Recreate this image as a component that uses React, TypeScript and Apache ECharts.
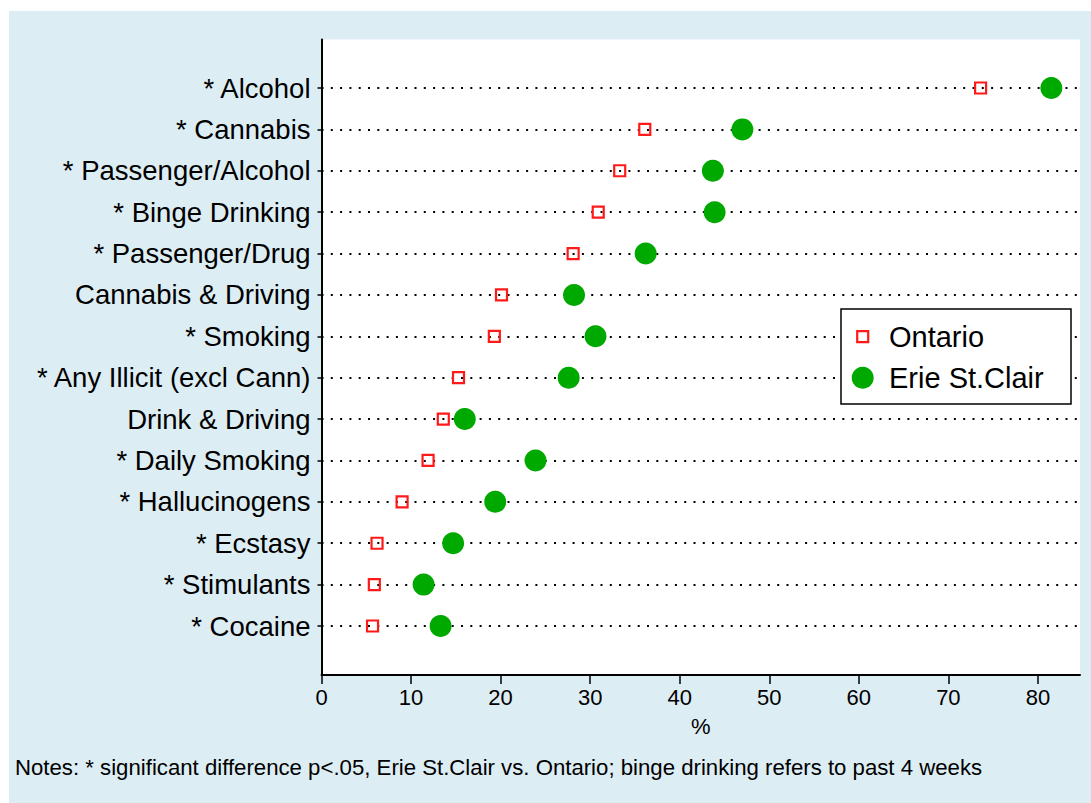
import React, { useEffect, useRef } from "react";
import * as echarts from "echarts";

const categories = [
  "* Alcohol",
  "* Cannabis",
  "* Passenger/Alcohol",
  "* Binge Drinking",
  "* Passenger/Drug",
  "Cannabis & Driving",
  "* Smoking",
  "* Any Illicit (excl Cann)",
  "Drink & Driving",
  "* Daily Smoking",
  "* Hallucinogens",
  "* Ecstasy",
  "* Stimulants",
  "* Cocaine",
];
const ontario = [73.6, 36.1, 33.3, 30.9, 28.1, 20.1, 19.3, 15.3, 13.6, 11.9, 9.0, 6.2, 5.9, 5.7];
const erieStClair = [81.5, 47.0, 43.7, 43.9, 36.2, 28.2, 30.6, 27.6, 16.0, 23.9, 19.4, 14.7, 11.4, 13.3];
const xTicks = [0, 10, 20, 30, 40, 50, 60, 70, 80];
const xMin = 0;
const xMax = 84.7;
const notes =
  "Notes: * significant difference p<.05, Erie St.Clair vs. Ontario; binge drinking refers to past 4 weeks";

const FONT = "'Liberation Sans', Arial, Helvetica, sans-serif";
const BG = "#ddedf4";
const RED = "#ff1a1a";
const GREEN = "#00a900";

export default function App() {
  const ref = useRef<HTMLDivElement>(null);
  useEffect(() => {
    if (!ref.current) return;
    const chart = echarts.init(ref.current, undefined, { renderer: "svg" });
    const plotLeft = 321.5;
    const plotRight = 11;
    chart.setOption({
      animation: false,
      textStyle: { fontFamily: FONT },
      grid: [
        {
          left: plotLeft,
          right: plotRight,
          top: 39.5,
          bottom: 128,
          show: true,
          backgroundColor: "#ffffff",
          borderWidth: 0,
          containLabel: false,
        },
        {
          left: plotLeft,
          right: plotRight,
          top: 88,
          bottom: 177,
          containLabel: false,
        },
      ],
      xAxis: [
        {
          type: "value",
          gridIndex: 0,
          min: xMin,
          max: xMax,
          interval: 10,
          name: "%",
          nameLocation: "middle",
          nameGap: 40,
          nameTextStyle: { color: "#000", fontSize: 22, fontFamily: FONT },
          axisLine: { show: true, onZero: false, lineStyle: { color: "#000", width: 2 } },
          axisTick: {
            show: true,
            length: 9,
            lineStyle: { color: "#000", width: 1.5 },
            customValues: xTicks,
          },
          axisLabel: {
            color: "#000",
            fontSize: 22,
            fontFamily: FONT,
            margin: 11,
            customValues: xTicks,
          },
          splitLine: { show: false },
        },
        {
          type: "value",
          gridIndex: 1,
          min: xMin,
          max: xMax,
          show: false,
        },
      ],
      yAxis: [
        {
          type: "value",
          gridIndex: 0,
          min: 0,
          max: 1,
          axisLine: { show: true, onZero: false, lineStyle: { color: "#000", width: 2 } },
          axisTick: { show: false },
          axisLabel: { show: false },
          splitLine: { show: false },
        },
        {
          type: "category",
          gridIndex: 1,
          data: categories,
          inverse: true,
          boundaryGap: false,
          axisLine: { show: false },
          axisTick: {
            show: true,
            length: 4,
            alignWithLabel: true,
            lineStyle: { color: "#000", width: 1.5 },
          },
          axisLabel: {
            color: "#000",
            fontSize: 27.5,
            fontFamily: FONT,
            margin: 11,
            interval: 0,
          },
          splitLine: {
            show: true,
            interval: 0,
            lineStyle: { color: "#000", width: 2, type: [2, 7.3] },
          },
        },
      ],
      series: [
        {
          name: "Ontario",
          type: "scatter",
          xAxisIndex: 1,
          yAxisIndex: 1,
          data: ontario,
          symbol: "rect",
          symbolSize: 11,
          itemStyle: { color: "rgba(0,0,0,0)", borderColor: RED, borderWidth: 2.2, opacity: 1 },
          z: 3,
        },
        {
          name: "Erie St.Clair",
          type: "scatter",
          xAxisIndex: 1,
          yAxisIndex: 1,
          data: erieStClair,
          symbol: "circle",
          symbolSize: 22,
          itemStyle: { color: GREEN, opacity: 1 },
          z: 4,
        },
      ],
      graphic: [
        {
          type: "rect",
          z: -10,
          silent: true,
          shape: { x: 9, y: 11, width: 1082, height: 792 },
          style: { fill: BG },
        },
        {
          type: "rect",
          z: 100,
          shape: { x: 841, y: 309, width: 230, height: 95 },
          style: { fill: "#fff", stroke: "#000", lineWidth: 1.5 },
        },
        {
          type: "rect",
          z: 101,
          shape: { x: 857.2, y: 331.2, width: 11, height: 11 },
          style: { fill: "#fff", stroke: RED, lineWidth: 2.2 },
        },
        {
          type: "circle",
          z: 101,
          shape: { cx: 862.7, cy: 377.7, r: 11 },
          style: { fill: GREEN },
        },
        {
          type: "text",
          z: 101,
          x: 889,
          y: 336.7,
          style: {
            text: "Ontario",
            fill: "#000",
            font: `29px ${FONT}`,
            verticalAlign: "middle",
            align: "left",
          },
        },
        {
          type: "text",
          z: 101,
          x: 889,
          y: 377.7,
          style: {
            text: "Erie St.Clair",
            fill: "#000",
            font: `29px ${FONT}`,
            verticalAlign: "middle",
            align: "left",
          },
        },
        {
          type: "text",
          left: 15,
          top: 756,
          z: 100,
          style: {
            text: notes,
            fill: "#000",
            font: `22.2px ${FONT}`,
          },
        },
      ],
    });
    return () => chart.dispose();
  }, []);
  return (
    <div
      ref={ref}
      style={{ position: "fixed", left: 0, top: 0, width: 1091, height: 803, background: "#fff" }}
    />
  );
}
